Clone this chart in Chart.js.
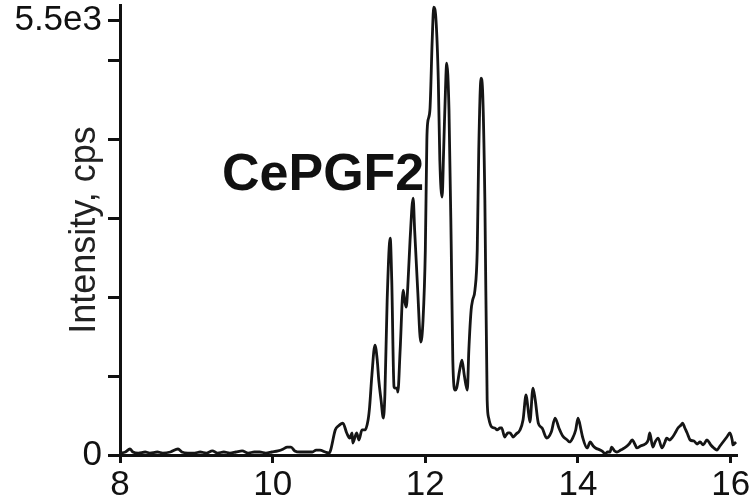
<!DOCTYPE html>
<html>
<head>
<meta charset="utf-8">
<script src="https://cdn.jsdelivr.net/npm/chart.js@4.4.1/dist/chart.umd.min.js"></script>
<style>
    html, body { margin: 0; padding: 0; background: #fff; }
    #wrap { width: 749px; height: 503px; position: relative; }
</style>
</head>
<body>
<div id="wrap"><canvas id="chart"></canvas></div>
<script>
// Retention time (min)
const times = [
    8.00, 8.07, 8.13, 8.17, 8.24, 8.33, 8.39, 8.49, 8.56, 8.66,
    8.76, 8.81, 8.89, 8.98, 9.05, 9.13, 9.21, 9.28, 9.36, 9.44,
    9.52, 9.60, 9.68, 9.76, 9.83, 9.91, 9.99, 10.07, 10.14, 10.19,
    10.24, 10.29, 10.36, 10.44, 10.52, 10.57, 10.62, 10.69, 10.74, 10.76,
    10.82, 10.86, 10.92, 10.97, 11.01, 11.04, 11.05, 11.10, 11.13, 11.17,
    11.21, 11.25, 11.27, 11.30, 11.34, 11.37, 11.39, 11.42, 11.45, 11.47,
    11.50, 11.54, 11.56, 11.59, 11.60, 11.63, 11.64, 11.67, 11.71, 11.73,
    11.75, 11.77, 11.80, 11.84, 11.86, 11.90, 11.94, 11.97, 12.00, 12.02,
    12.03, 12.06, 12.09, 12.11, 12.14, 12.17, 12.19, 12.22, 12.24, 12.27,
    12.28, 12.31, 12.34, 12.36, 12.39, 12.41, 12.45, 12.48, 12.51, 12.55,
    12.57, 12.60, 12.62, 12.65, 12.68, 12.70, 12.73, 12.75, 12.78, 12.81,
    12.83, 12.87, 12.91, 12.94, 12.98, 13.00, 13.04, 13.08, 13.11, 13.15,
    13.19, 13.24, 13.28, 13.32, 13.34, 13.37, 13.41, 13.44, 13.48, 13.53,
    13.59, 13.65, 13.70, 13.75, 13.80, 13.86, 13.89, 13.93, 13.97, 14.00,
    14.04, 14.06, 14.12, 14.16, 14.20, 14.23, 14.29, 14.33, 14.35, 14.39,
    14.42, 14.44, 14.48, 14.51, 14.56, 14.61, 14.67, 14.71, 14.75, 14.77,
    14.82, 14.88, 14.92, 14.94, 14.98, 15.01, 15.05, 15.10, 15.14, 15.16,
    15.20, 15.24, 15.28, 15.31, 15.35, 15.37, 15.40, 15.43, 15.47, 15.52,
    15.56, 15.60, 15.64, 15.69, 15.74, 15.78, 15.82, 15.86, 15.89, 15.92,
    15.95, 15.99, 16.02, 16.03, 16.07
];

// Intensity (cps)
const intensity = [
    25, 38, 76, 38, 25, 38, 25, 38, 25, 38,
    76, 38, 25, 25, 38, 25, 51, 25, 38, 25,
    38, 51, 25, 38, 38, 25, 38, 51, 76, 101,
    101, 51, 38, 38, 38, 63, 63, 38, 25, 63,
    317, 367, 405, 279, 215, 279, 152, 279, 190, 317,
    317, 443, 608, 1013, 1393, 1203, 950, 696, 468, 760,
    1962, 2747, 2216, 861, 848, 848, 798, 1329, 2089, 1950,
    1874, 2127, 2722, 3254, 2849, 2089, 1431, 1709, 2595, 3988,
    4203, 4368, 5254, 5672, 5507, 4748, 3735, 3266, 3861, 4811,
    4963, 4368, 2595, 1203, 823, 848, 1076, 1203, 1013, 823,
    1329, 1836, 1962, 2089, 2595, 3861, 4773, 4621, 3228, 696,
    468, 354, 342, 317, 342, 342, 228, 279, 279, 228,
    266, 317, 443, 760, 633, 418, 848, 696, 405, 342,
    215, 291, 468, 342, 241, 190, 165, 215, 317, 468,
    317, 228, 89, 165, 114, 89, 63, 38, 13, 38,
    38, 101, 51, 38, 63, 89, 139, 190, 127, 89,
    114, 139, 190, 279, 101, 165, 215, 89, 165, 215,
    190, 228, 291, 342, 380, 405, 342, 279, 190, 177,
    139, 165, 127, 190, 127, 89, 63, 114, 152, 190,
    228, 279, 190, 127, 165
];

// Axis ticks
const xTicks = [8, 10, 12, 14, 16];
const yTicks = [0, 1000, 2000, 3000, 4000, 5000, 5500];
const yTickLabels = { 0: '0', 5500: '5.5e3' };

const seriesLabel = 'CePGF2';
const yAxisTitle = 'Intensity, cps';

const points = times.map((t, i) => ({ x: t, y: intensity[i] }));
const fontFamily = '"Liberation Sans", Arial, sans-serif';

// Draws the compound name inside the plot
const namePlugin = {
    id: 'compoundName',
    afterDraw(chart) {
        const ctx = chart.ctx;
        ctx.save();
        ctx.font = 'bold 52px ' + fontFamily;
        ctx.fillStyle = '#111';
        ctx.textAlign = 'left';
        ctx.textBaseline = 'alphabetic';
        ctx.fillText(seriesLabel, 222, 190);
        ctx.restore();
    }
};

const ctx = document.getElementById('chart').getContext('2d');
const chart = new Chart(ctx, {
    type: 'line',
    data: {
        datasets: [{
            label: seriesLabel,
            data: points,
            borderColor: '#151515',
            borderWidth: 2.8,
            pointRadius: 0,
            fill: false,
            cubicInterpolationMode: 'monotone',
            clip: false
        }]
    },
    options: {
        responsive: true,
        maintainAspectRatio: false,
        animation: false,
        layout: {
            padding: { top: 5, right: 13, left: 0, bottom: 0 }
        },
        plugins: {
            legend: { display: false },
            tooltip: { enabled: false }
        },
        scales: {
            x: {
                type: 'linear',
                min: 8,
                max: 16.07,
                afterBuildTicks: (scale) => {
                    scale.ticks = xTicks.map(v => ({ value: v }));
                },
                afterFit: (scale) => {
                    scale.height = 48;
                    scale.paddingLeft = 0;
                    scale.paddingRight = 0;
                },
                grid: {
                    drawOnChartArea: false,
                    drawTicks: true,
                    tickLength: 8,
                    tickColor: '#111',
                    lineWidth: 3
                },
                border: { color: '#111', width: 3 },
                ticks: {
                    autoSkip: false,
                    maxRotation: 0,
                    padding: 1,
                    color: '#111',
                    font: { family: fontFamily, size: 35 },
                    callback: (v) => String(v)
                }
            },
            y: {
                min: 0,
                max: 5700,
                afterBuildTicks: (scale) => {
                    scale.ticks = yTicks.map(v => ({ value: v }));
                },
                afterFit: (scale) => {
                    scale.width = 120;
                    scale.paddingTop = 0;
                    scale.paddingBottom = 0;
                },
                grid: {
                    drawOnChartArea: false,
                    drawTicks: true,
                    tickLength: 12,
                    tickColor: '#111',
                    lineWidth: 3
                },
                border: { color: '#111', width: 3 },
                title: {
                    display: true,
                    text: yAxisTitle,
                    color: '#222',
                    font: { family: fontFamily, size: 36 },
                    padding: { top: 63, bottom: 0 }
                },
                ticks: {
                    autoSkip: false,
                    padding: 6,
                    color: '#111',
                    font: { family: fontFamily, size: 35 },
                    callback: (v) => yTickLabels[v] || ''
                }
            }
        }
    },
    plugins: [namePlugin]
});
</script>
</body>
</html>
